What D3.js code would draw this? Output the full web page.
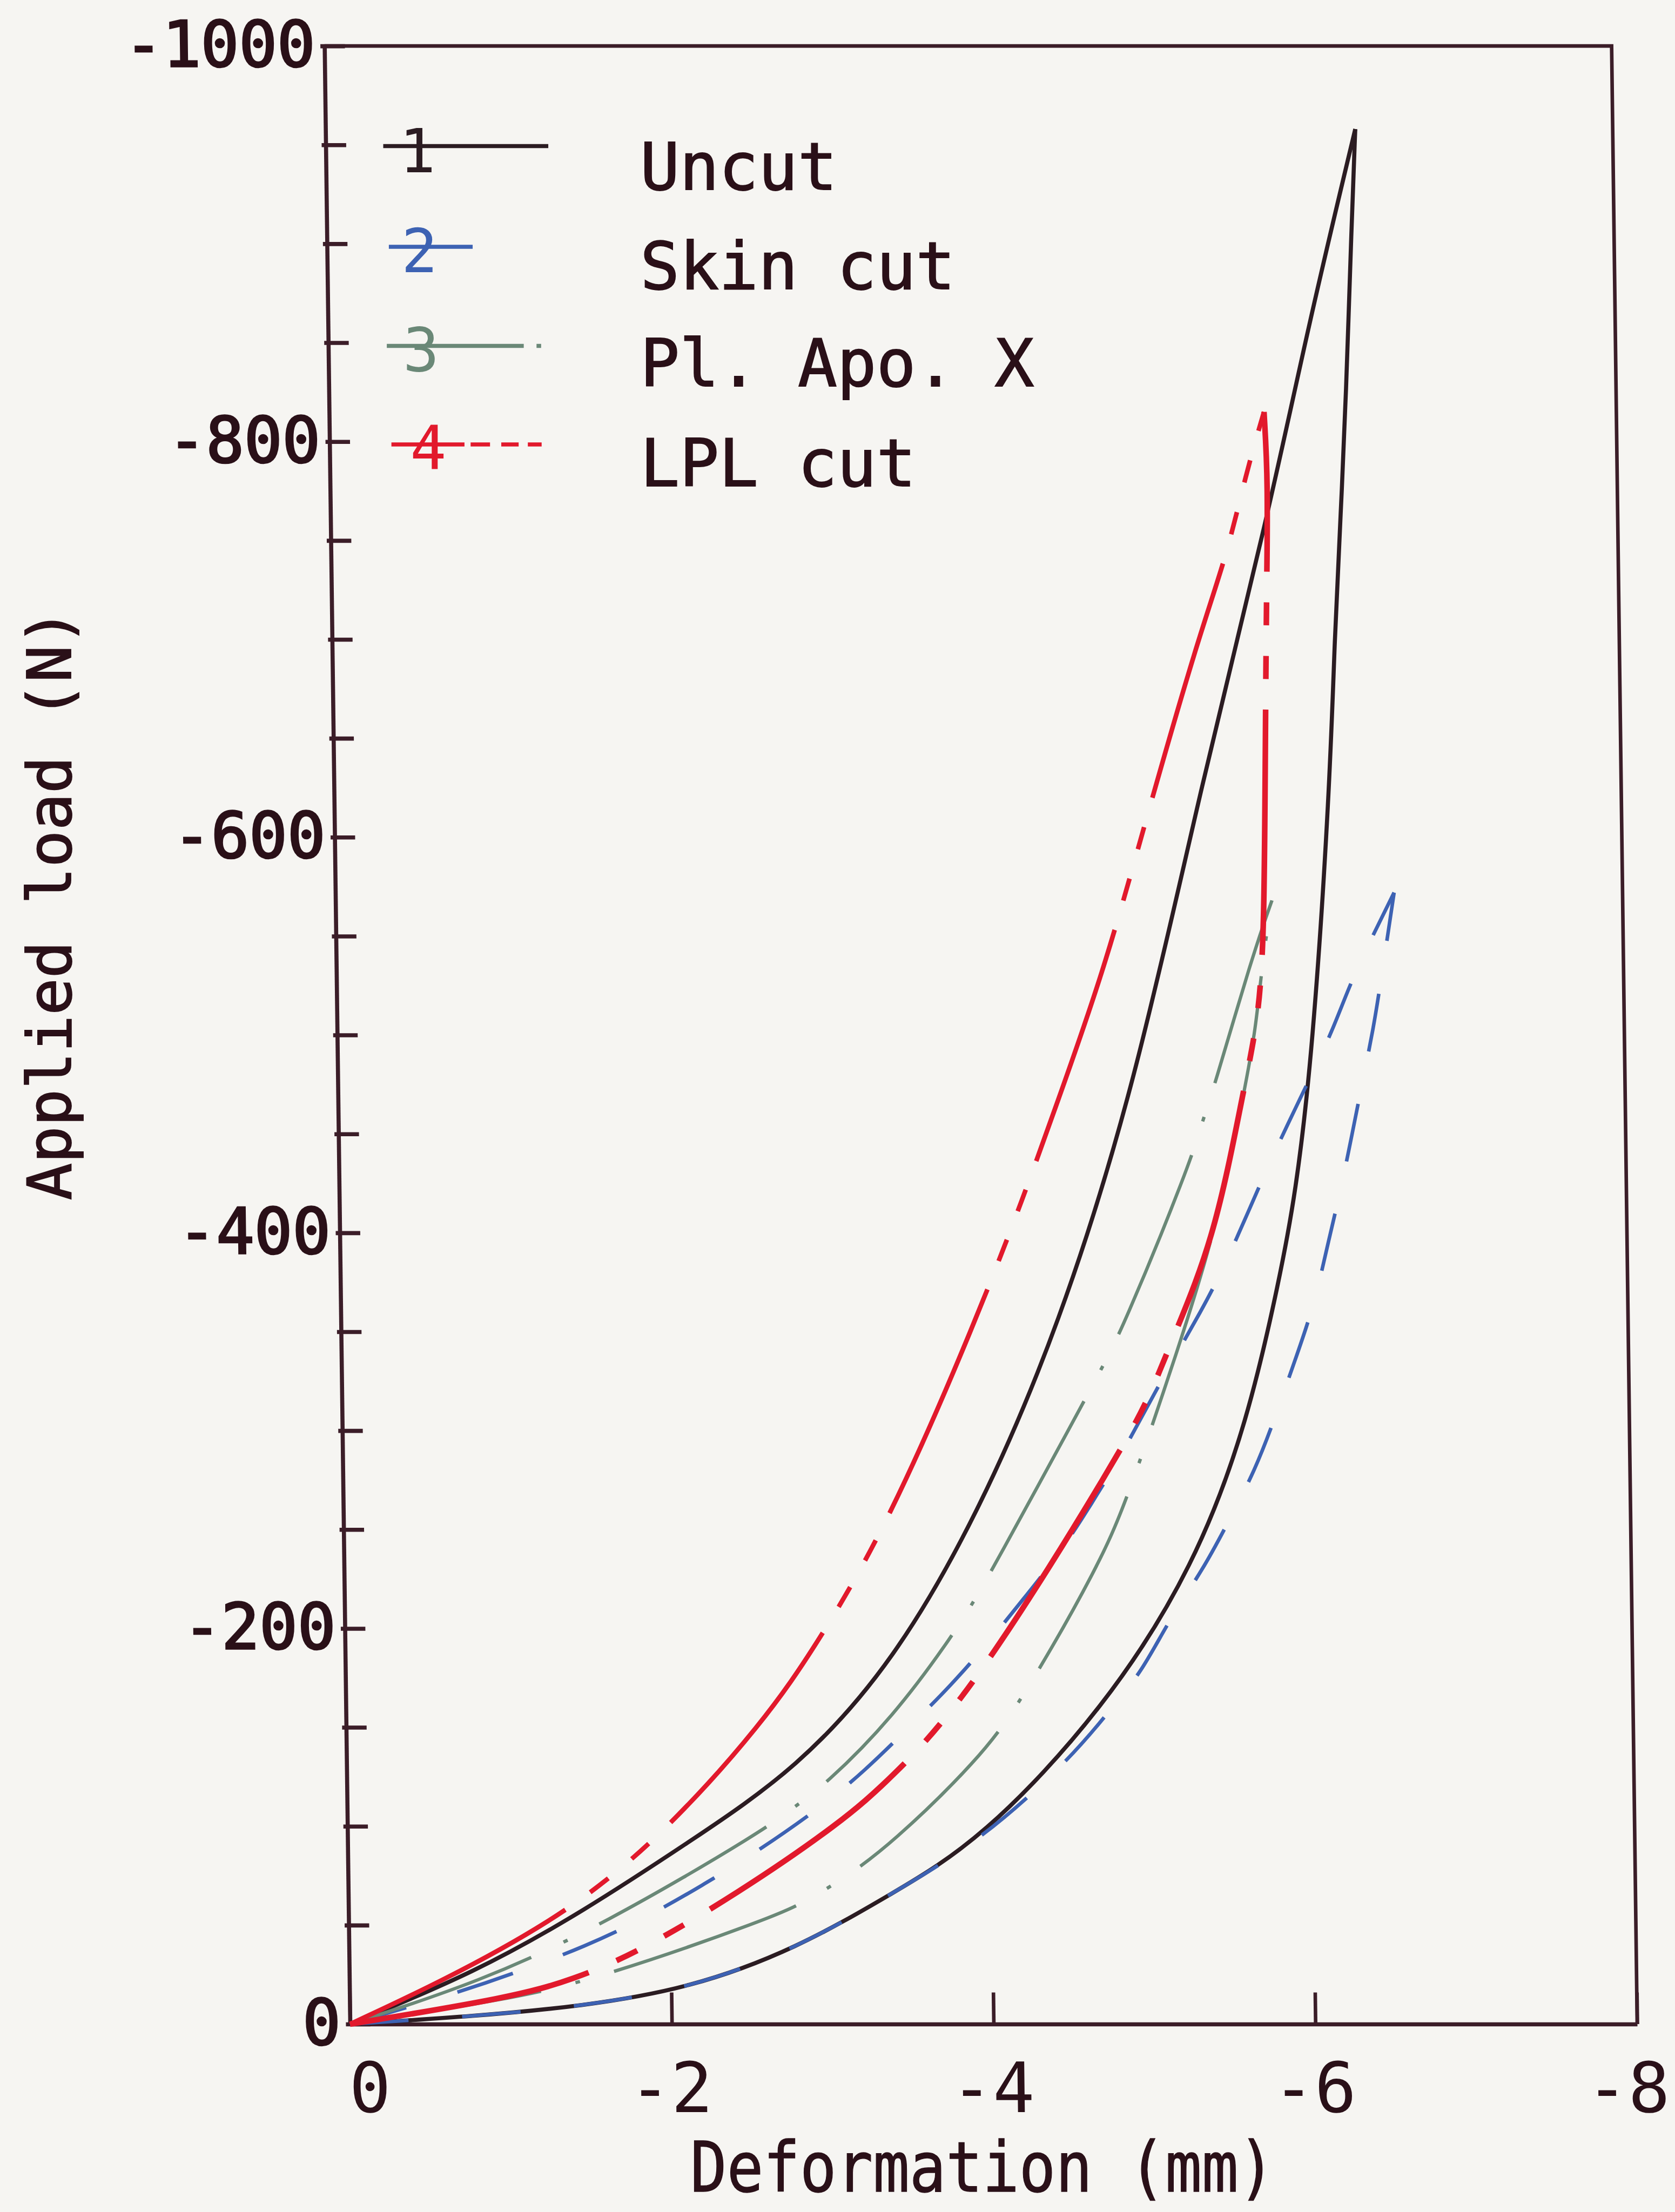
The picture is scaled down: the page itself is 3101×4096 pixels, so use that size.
<!DOCTYPE html>
<html>
<head>
<meta charset="utf-8">
<script src="https://cdn.jsdelivr.net/npm/d3@7"></script>
<style>
  html, body { margin: 0; padding: 0; background: #f6f5f2; }
  svg { display: block; }
</style>
</head>
<body>
<svg id="chart" width="3101" height="4096"></svg>
<script>
// ---- Data: applied load (N) against deformation (mm), loading and unloading branches ----
const seriesNames = ["Uncut", "Skin cut", "Pl. Apo. X", "LPL cut"];
const seriesIds = ["1", "2", "3", "4"];

const xTickValues = [0, -2, -4, -6, -8];
const yTickValues = [0, -50, -100, -150, -200, -250, -300, -350, -400, -450, -500,
                     -550, -600, -650, -700, -750, -800, -850, -900, -950, -1000];
const yTickLabels = [0, -200, -400, -600, -800, -1000];

// 1  Uncut
const uncutLoading = [[0,0],[-0.78,-4],[-1.44,-9],[-2.11,-18],[-2.78,-38],[-3.38,-66],[-3.94,-93],
  [-4.72,-160],[-5.29,-232],[-5.63,-305],[-5.84,-378],[-5.94,-418],[-6.06,-490],[-6.19,-626],
  [-6.23,-700],[-6.28,-765],[-6.32,-821],[-6.37,-911],[-6.40,-958]];
const uncutUnloading = [[0,0],[-0.78,-26],[-1.46,-57],[-2.14,-93],[-2.80,-129],[-3.41,-183],
  [-3.96,-260],[-4.46,-352],[-4.95,-473],[-5.40,-630],[-5.82,-760],[-6.09,-858],[-6.40,-958]];

// 2  Skin cut
const skinLoading = [[0,0],[-0.78,-4],[-1.44,-9],[-2.11,-18],[-2.78,-38],[-3.38,-66],[-3.94,-93],
  [-4.51,-135],[-4.74,-158],[-4.95,-178],[-5.12,-204],[-5.34,-230],[-5.50,-254],[-5.67,-280],
  [-5.80,-307],[-5.91,-332],[-6.05,-363],[-6.15,-398],[-6.22,-420],[-6.30,-450],[-6.37,-477],
  [-6.44,-503],[-6.49,-527],[-6.55,-557],[-6.58,-572]];
const skinUnloading = [[0,0],[-0.72,-17],[-1.10,-28],[-1.46,-39],[-1.83,-53],[-2.20,-70],
  [-2.56,-88],[-2.95,-110],[-3.22,-128],[-3.51,-151],[-3.76,-171],[-4.00,-193],[-4.22,-215],
  [-4.45,-238],[-4.65,-263],[-4.85,-289],[-5.09,-325],[-5.36,-362],[-5.50,-384],[-5.65,-411],
  [-5.76,-431],[-5.90,-455],[-6.06,-481],[-6.19,-503],[-6.30,-526],[-6.43,-548],[-6.58,-572]];

// 3  Pl. Apo. X
const apoLoading = [[0,0],[-0.98,-12.5],[-1.53,-22.5],[-2.64,-54],[-2.84,-62],[-3.07,-73],
  [-3.38,-91],[-3.93,-134],[-4.19,-162],[-4.70,-233],[-4.88,-267],[-5.20,-341],[-5.44,-400],
  [-5.63,-470],[-5.71,-503],[-5.76,-540],[-5.82,-568]];
const apoUnloading = [[0,0],[-0.80,-21],[-1.58,-50],[-2.61,-99],[-2.78,-110],[-2.96,-120],
  [-3.40,-155],[-3.79,-198],[-3.92,-215],[-4.03,-230],[-4.58,-310],[-4.72,-331],[-4.85,-350],
  [-5.29,-435],[-5.36,-454],[-5.44,-472],[-5.69,-539],[-5.82,-568]];

// 4  LPL cut
const lplLoading = [[0,0],[-1.01,-13.5],[-1.39,-22.5],[-1.79,-36],[-2.42,-66],[-3.07,-102],
  [-3.38,-124],[-3.88,-166],[-4.85,-291],[-5.03,-319],[-5.17,-347],[-5.44,-398],[-5.63,-473],
  [-5.73,-509],[-5.77,-554],[-5.79,-640],[-5.81,-720],[-5.83,-780],[-5.81,-815]];
const lplUnloading = [[0,0],[-0.56,-21],[-1.32,-54],[-1.93,-93],[-2.60,-153],[-2.94,-193],
  [-3.38,-252],[-3.95,-356],[-4.27,-422],[-4.42,-455],[-4.77,-532],[-5.04,-608],[-5.38,-700],
  [-5.57,-743],[-5.69,-783],[-5.81,-815]];

// ---- Styles ----
const axisColor = "#3b1d28";
const inkColor = "#2a1018";
const styles = [
  { color: "#2b1c22", width: 8,   dash: null },
  { color: "#3d62b3", width: 7,   dash: "115 105" },
  { color: "#6a8877", width: 6.5, dash: "380 70 9 70" },
  { color: "#e2192c", width: 9,   dash: "480 60 45 60 45 60" }
];
const branches = [
  { s: 0, pts: uncutLoading }, { s: 0, pts: uncutUnloading },
  { s: 1, pts: skinLoading },  { s: 1, pts: skinUnloading },
  { s: 2, pts: apoLoading },   { s: 2, pts: apoUnloading },
  { s: 3, pts: lplLoading, w: 11 }, { s: 3, pts: lplUnloading }
];

const mono = "'DejaVu Sans Mono', 'Liberation Mono', monospace";
const svg = d3.select("#chart");
const root = svg.append("g").attr("transform", "scale(0.946)");

// plot frame (unscaled units); the plotter frame leans slightly, so the plot
// group is sheared about its bottom edge
const L = 685, R = 3204, T = 90, B = 3962;
const lean = 0.74; // degrees
const plot = root.append("g")
  .attr("transform", `translate(0,${B}) skewX(${lean}) translate(0,${-B})`);

const x = d3.scaleLinear().domain([0, -8]).range([L, R]);
const y = d3.scaleLinear().domain([0, -1000]).range([B, T]);

const fmt = d => (d < 0 ? "-" + Math.abs(d) : String(d));

// frame top and right
plot.append("path")
  .attr("d", `M${L},${T}H${R}V${B}`)
  .attr("fill", "none").attr("stroke", axisColor).attr("stroke-width", 7);

// y axis
const gy = plot.append("g").attr("transform", `translate(${L},0)`)
  .call(d3.axisLeft(y).tickValues(yTickValues).tickSize(-40).tickSizeOuter(0).tickPadding(18)
    .tickFormat(d => yTickLabels.includes(d) ? fmt(d) : ""));
gy.select(".domain").attr("stroke", axisColor).attr("stroke-width", 8);
gy.selectAll(".tick line").attr("stroke", axisColor).attr("stroke-width", 8).attr("x1", -8);
gy.selectAll(".tick text").attr("fill", inkColor)
  .attr("font-family", mono).attr("font-size", 124)
  .attr("stroke", inkColor).attr("stroke-width", 3.5);

// x axis
const gx = plot.append("g").attr("transform", `translate(0,${B})`)
  .call(d3.axisBottom(x).tickValues(xTickValues).tickSize(-62).tickSizeOuter(0).tickPadding(76)
    .tickFormat(fmt));
gx.select(".domain").attr("stroke", axisColor).attr("stroke-width", 8);
gx.selectAll(".tick line").attr("stroke", axisColor).attr("stroke-width", 7);
gx.selectAll(".tick text").attr("fill", inkColor)
  .attr("font-family", mono).attr("font-size", 136)
  .attr("text-anchor", "end").attr("x", d => (d === -8 ? 62 : 78));

// curves
const line = d3.line().x(d => x(d[0])).y(d => y(d[1])).curve(d3.curveBasis);
plot.append("g").selectAll("path").data(branches).join("path")
  .attr("d", d => line(d.pts))
  .attr("fill", "none")
  .attr("stroke", d => styles[d.s].color)
  .attr("stroke-width", d => d.w || styles[d.s].width)
  .attr("stroke-dasharray", d => styles[d.s].dash)
  .attr("stroke-linejoin", "round");

// axis titles
root.append("text")
  .attr("transform", `translate(138,1770) rotate(-90)`)
  .attr("text-anchor", "middle").attr("fill", inkColor)
  .attr("font-family", mono).attr("font-size", 118)
  .attr("textLength", 1158).attr("lengthAdjust", "spacingAndGlyphs")
  .attr("stroke", inkColor).attr("stroke-width", 2)
  .text("Applied load (N)");
root.append("text")
  .attr("x", 1923).attr("y", 4290)
  .attr("text-anchor", "middle").attr("fill", inkColor)
  .attr("font-family", mono).attr("font-size", 136)
  .attr("textLength", 1144).attr("lengthAdjust", "spacingAndGlyphs")
  .attr("stroke", inkColor).attr("stroke-width", 1.5)
  .text("Deformation (mm)");

// legend
const legendRows = [
  { lineY: 286, x0: 750, x1: 1073, numX: 817, numY: 337, textY: 371, dash: null },
  { lineY: 483, x0: 761, x1: 925,  numX: 821, numY: 533, textY: 566, dash: null },
  { lineY: 677, x0: 757, x1: 1060, numX: 824, numY: 726, textY: 756, dash: "268 25 9 200" },
  { lineY: 870, x0: 766, x1: 1060, numX: 838, numY: 919, textY: 951, dash: "143 12 38 22 34 18 28 200" }
];
const lg = root.append("g");
legendRows.forEach((r, i) => {
  lg.append("line")
    .attr("x1", r.x0).attr("x2", r.x1).attr("y1", r.lineY).attr("y2", r.lineY)
    .attr("stroke", styles[i].color).attr("stroke-width", 8)
    .attr("stroke-dasharray", r.dash);
  lg.append("text")
    .attr("x", r.numX).attr("y", r.numY).attr("text-anchor", "middle")
    .attr("fill", styles[i].color).attr("font-family", mono).attr("font-size", 118)
    .text(seriesIds[i]);
  lg.append("text")
    .attr("x", 1253).attr("y", r.textY)
    .attr("fill", inkColor).attr("font-family", mono).attr("font-size", 128)
    .attr("stroke", inkColor).attr("stroke-width", 2)
    .text(seriesNames[i]);
});
</script>
</body>
</html>
